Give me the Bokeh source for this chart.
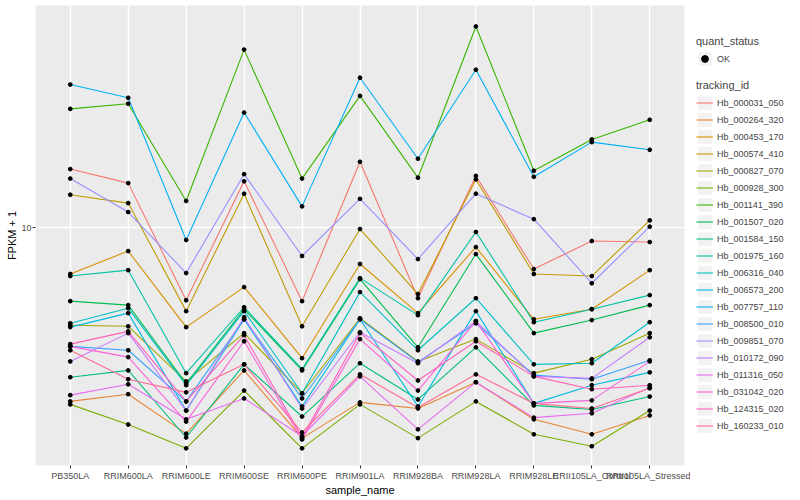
from bokeh.plotting import figure
from bokeh.models import FactorRange, Range1d, FixedTicker, Legend, LegendItem, PrintfTickFormatter
from bokeh.layouts import row
from bokeh.embed import file_html
from bokeh.resources import INLINE

samples = ["PB350LA", "RRIM600LA", "RRIM600LE", "RRIM600SE", "RRIM600PE", "RRIM901LA",
           "RRIM928BA", "RRIM928LA", "RRIM928LE", "RRII105LA_Control", "RRII105LA_Stressed"]

tracking_ids = ["Hb_000031_050", "Hb_000264_320", "Hb_000453_170", "Hb_000574_410",
                "Hb_000827_070", "Hb_000928_300", "Hb_001141_390", "Hb_001507_020",
                "Hb_001584_150", "Hb_001975_160", "Hb_006316_040", "Hb_006573_200",
                "Hb_007757_110", "Hb_008500_010", "Hb_009851_070", "Hb_010172_090",
                "Hb_011316_050", "Hb_031042_020", "Hb_124315_020", "Hb_160233_010"]

colors = ["#F8766D", "#EA8331", "#D89000", "#C09B00", "#A3A500", "#7CAE00", "#39B600",
          "#00BB4E", "#00BF7D", "#00C1A3", "#00BFC4", "#00BAE0", "#00B0F6", "#35A2FF",
          "#9590FF", "#C77CFF", "#E76BF3", "#FA62DB", "#FF62BC", "#FF6C91"]

# FPKM + 1 values, one list per tracking_id, in the order of `samples`
hb_000031_050 = [15.7, 14.1, 5.75, 14.3, 5.71, 16.6, 5.84, 14.9, 7.30, 9.05, 8.98]
hb_000264_320 = [2.65, 2.80, 2.07, 3.36, 2.00, 2.63, 2.51, 3.07, 2.31, 2.06, 2.38]
hb_000453_170 = [7.03, 8.38, 4.68, 6.36, 3.69, 7.59, 5.21, 8.64, 4.97, 5.37, 7.24]
hb_000574_410 = [12.9, 12.1, 5.29, 13.0, 4.71, 9.92, 6.03, 14.5, 7.03, 6.92, 10.6]
hb_000827_070 = [4.75, 4.71, 3.09, 4.47, 2.82, 5.01, 3.60, 4.27, 3.29, 3.66, 4.47]
hb_000928_300 = [2.59, 2.22, 1.85, 2.88, 1.85, 2.59, 2.00, 2.65, 2.06, 1.88, 2.47]
hb_001141_390 = [24.9, 25.9, 12.3, 39.2, 14.6, 27.5, 14.7, 46.8, 15.5, 19.7, 22.9]
hb_001507_020 = [5.71, 5.54, 3.04, 5.37, 3.36, 6.76, 4.01, 8.19, 4.47, 4.94, 5.54]
hb_001584_150 = [3.19, 3.36, 2.01, 3.52, 2.36, 3.55, 2.69, 4.01, 2.57, 2.49, 2.75]
hb_001975_160 = [6.92, 7.24, 3.29, 5.45, 3.39, 6.81, 5.13, 9.70, 4.86, 5.37, 5.98]
hb_006316_040 = [4.82, 5.41, 3.00, 5.29, 2.82, 6.12, 3.92, 5.84, 3.52, 3.55, 4.86]
hb_006573_200 = [4.68, 5.21, 2.47, 4.97, 2.55, 4.97, 2.55, 5.29, 2.61, 3.00, 3.31]
hb_007757_110 = [30.0, 27.1, 9.12, 24.2, 11.8, 31.6, 17.0, 33.6, 14.8, 19.3, 18.2]
hb_008500_010 = [4.04, 3.92, 2.65, 4.97, 2.71, 4.97, 3.58, 4.82, 3.24, 3.14, 3.63]
hb_009851_070 = [14.6, 11.3, 7.08, 15.1, 8.07, 12.5, 7.88, 13.0, 10.7, 6.55, 10.1]
hb_010172_090 = [3.60, 4.47, 2.47, 5.05, 2.51, 4.50, 3.55, 4.90, 3.21, 3.16, 4.33]
hb_011316_050 = [2.78, 3.02, 2.31, 2.71, 2.03, 3.21, 2.14, 3.07, 2.34, 2.42, 2.95]
hb_031042_020 = [4.04, 3.72, 2.27, 4.20, 1.98, 4.27, 2.88, 4.90, 2.61, 2.67, 3.60]
hb_124315_020 = [4.11, 4.53, 2.65, 4.40, 2.01, 4.47, 3.11, 4.20, 3.21, 2.91, 3.00]
hb_160233_010 = [3.92, 3.14, 2.84, 3.52, 2.09, 3.26, 2.53, 3.26, 2.61, 2.51, 2.93]

series = [hb_000031_050, hb_000264_320, hb_000453_170, hb_000574_410, hb_000827_070,
          hb_000928_300, hb_001141_390, hb_001507_020, hb_001584_150, hb_001975_160,
          hb_006316_040, hb_006573_200, hb_007757_110, hb_008500_010, hb_009851_070,
          hb_010172_090, hb_011316_050, hb_031042_020, hb_124315_020, hb_160233_010]

FONT = "Liberation Sans"
H = 498

p = figure(width=690, height=H,
           x_range=FactorRange(factors=samples, range_padding=0.1, range_padding_units="absolute"),
           y_range=Range1d(1.622, 54.95), y_axis_type="log",
           output_backend="svg", toolbar_location=None,
           min_border_left=35, min_border_right=6, min_border_top=5, min_border_bottom=30)
p.background_fill_color = "#EBEBEB"
p.border_fill_color = "white"
p.outline_line_color = None

for g in (p.xgrid, p.ygrid):
    g.grid_line_color = "white"
    g.grid_line_width = 1.5
p.ygrid.minor_grid_line_color = None

p.yaxis.ticker = FixedTicker(ticks=[10], minor_ticks=[])
p.yaxis.formatter = PrintfTickFormatter(format="%d")

for ax in (p.xaxis, p.yaxis):
    ax.axis_line_color = None
    ax.major_tick_line_color = "#333333"
    ax.major_tick_out = 3
    ax.major_tick_in = 0
    ax.minor_tick_line_color = None
    ax.major_label_text_font = FONT
    ax.major_label_text_font_size = "9px"
    ax.major_label_text_color = "#4D4D4D"
    ax.major_label_text_line_height = 1.0
    ax.axis_label_text_font = FONT
    ax.axis_label_text_font_size = "11px"
    ax.axis_label_text_font_style = "normal"
    ax.axis_label_text_color = "black"
    ax.axis_label_text_line_height = 1.0
    ax.axis_label_standoff = 0
p.xaxis.major_label_standoff = 2
p.yaxis.major_label_standoff = 1
p.xaxis.axis_label = "sample_name"
p.yaxis.axis_label = "FPKM + 1"

for col, vals in zip(colors, series):
    p.line(x=samples, y=vals, line_color=col, line_width=1.1)

xs = [s for vals in series for s in samples]
ys = [v for vals in series for v in vals]
p.scatter(x=xs, y=ys, size=3.8, color="black")

# legend panel (proxy renderers lie outside the visible range; only their legend keys show)
lf = figure(width=106, height=H, x_range=Range1d(0, 1), y_range=Range1d(0, 1),
            x_axis_location=None, y_axis_location=None,
            output_backend="svg", toolbar_location=None, min_border=0)
lf.grid.visible = False
lf.outline_line_color = None

box = lf.rect(x=[-5], y=[-5], width=1, height=1, fill_color="#F2F2F2", line_color=None)
ok_r = lf.scatter(x=[-5], y=[-5], size=3.8, color="black")
line_rs = [lf.line(x=[-5, -6], y=[-5, -6], line_color=c, line_width=1.1) for c in colors]

def style(leg):
    leg.title_text_font = FONT
    leg.title_text_font_size = "11px"
    leg.title_text_font_style = "normal"
    leg.label_text_font = FONT
    leg.label_text_font_size = "9px"
    leg.glyph_width = 17
    leg.glyph_height = 17
    leg.label_height = 17
    leg.label_standoff = 4
    leg.spacing = 0
    leg.padding = 0
    leg.margin = 0
    leg.title_standoff = 3
    leg.border_line_color = None
    leg.background_fill_alpha = 0

leg1 = Legend(items=[LegendItem(label="OK", renderers=[box, ok_r])],
              title="quant_status", location=(6, 398))
leg2 = Legend(items=[LegendItem(label=t, renderers=[box, r]) for t, r in zip(tracking_ids, line_rs)],
              title="tracking_id", location=(6, 31))
style(leg1)
style(leg2)
lf.add_layout(leg1)
lf.add_layout(leg2)

layout = row(p, lf)
open("out.html", "w").write(file_html(layout, INLINE))
